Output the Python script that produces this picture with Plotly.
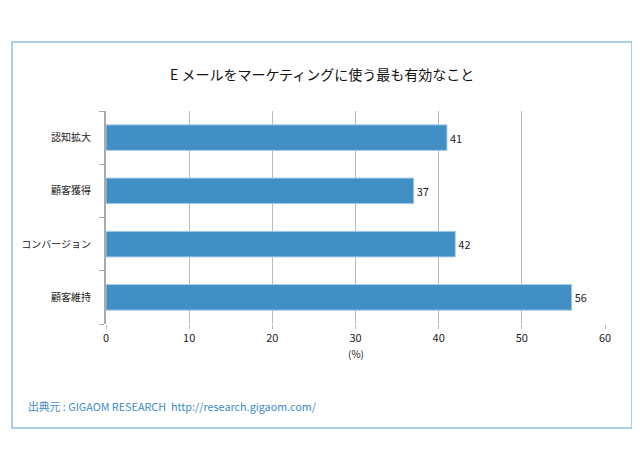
import plotly.graph_objects as go

categories = ["認知拡大", "顧客獲得", "コンバージョン", "顧客維持"]
values = [41, 37, 42, 56]
x_ticks = [0, 10, 20, 30, 40, 50, 60]
title_text = "E メールをマーケティングに使う最も有効なこと"
source_text = "出典元 : GIGAOM RESEARCH  http://research.gigaom.com/"
unit_text = "(%)"

FONT = "Noto Sans CJK JP, Noto Sans, sans-serif"

fig = go.Figure()
fig.add_trace(go.Bar(
    y=categories,
    x=values,
    orientation="h",
    width=0.48,
    marker=dict(color="#428FC5", line=dict(color="#A9CCE9", width=1)),
    text=[str(v) for v in values],
    textposition="outside",
    textfont=dict(size=11, color="#222222", family=FONT),
    cliponaxis=False,
))

# page body margin offset
OFF = 8
L, R, T, B = 106 - OFF, 35 + OFF, 111 - OFF, 126 + OFF
W, H = 640 - L - R, 450 - T - B

def px_x(px):
    return (px - OFF - L) / W

def px_y(py):
    return (450 - B - (py - OFF)) / H

fig.update_layout(
    width=640, height=450,
    margin=dict(l=L, r=R, t=T, b=B, autoexpand=False),
    paper_bgcolor="white",
    plot_bgcolor="white",
    showlegend=False,
    font=dict(family=FONT, size=11, color="#222222"),
    xaxis=dict(
        range=[0, 60],
        tickvals=x_ticks,
        showgrid=True,
        gridcolor="#BBBBBB",
        gridwidth=1,
        zeroline=False,
        showline=False,
        ticks="outside",
        ticklen=4,
        tickcolor="#BBBBBB",
        tickfont=dict(size=11, family=FONT, color="#222222"),
    ),
    yaxis=dict(
        categoryorder="array",
        categoryarray=categories[::-1],
        tickson="boundaries",
        ticks="outside",
        ticklen=5,
        tickcolor="#AAAAAA",
        showline=True,
        linecolor="#AAAAAA",
        linewidth=2,
        showgrid=False,
        ticklabelstandoff=11,
        tickfont=dict(size=10, family=FONT, color="#222222"),
    ),
    shapes=[dict(
        type="rect", xref="paper", yref="paper",
        x0=px_x(12), x1=px_x(632), y0=px_y(428), y1=px_y(42),
        line=dict(color="#8FBDE3", width=1.5),
        fillcolor="rgba(0,0,0,0)",
        layer="below",
    )],
    annotations=[
        dict(text=title_text, xref="paper", yref="paper",
             x=px_x(322), y=px_y(74), xanchor="center", yanchor="middle",
             showarrow=False, font=dict(size=14, family=FONT, color="#111111")),
        dict(text=unit_text, xref="paper", yref="paper",
             x=px_x(356), y=px_y(353), xanchor="center", yanchor="middle",
             showarrow=False, font=dict(size=10, family=FONT, color="#222222")),
        dict(text=source_text, xref="paper", yref="paper",
             x=px_x(26), y=px_y(406), xanchor="left", yanchor="middle",
             showarrow=False, font=dict(size=10.8, family=FONT, color="#3D8CC9")),
    ],
)

fig.write_html("out.html")
